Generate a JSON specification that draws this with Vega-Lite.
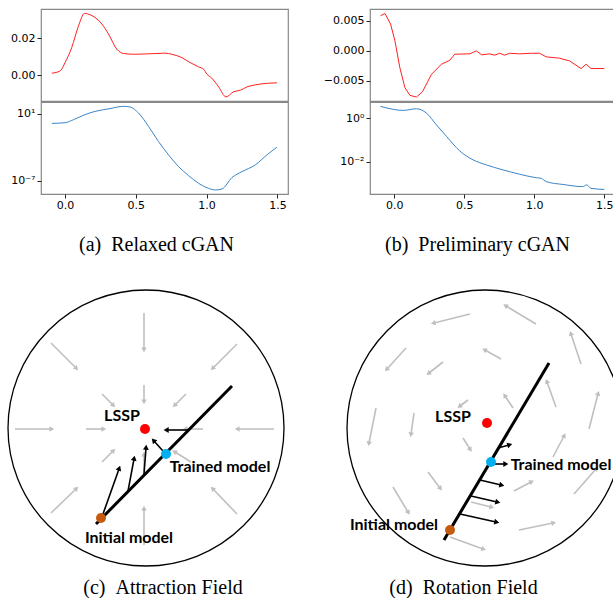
{
  "$schema": "https://vega.github.io/schema/vega-lite/v6.json",
  "padding": {"left": 0, "top": 8, "right": 0, "bottom": 0},
  "background": "white",
  "datasets": {
    "a_red": [{"x":-0.094,"y":0.0011},{"x":-0.035,"y":0.0023},{"x":0.0,"y":0.0068},{"x":0.047,"y":0.0149},{"x":0.095,"y":0.0266},{"x":0.137,"y":0.0333},{"x":0.177,"y":0.0326},{"x":0.26,"y":0.0276},{"x":0.307,"y":0.0222},{"x":0.366,"y":0.014},{"x":0.413,"y":0.0117},{"x":0.49,"y":0.0113},{"x":0.637,"y":0.0117},{"x":0.707,"y":0.0119},{"x":0.754,"y":0.0113},{"x":0.825,"y":0.0095},{"x":0.884,"y":0.0068},{"x":0.943,"y":0.0045},{"x":0.979,"y":0.0032},{"x":1.003,"y":0.0005},{"x":1.037,"y":-0.0016},{"x":1.085,"y":-0.0063},{"x":1.137,"y":-0.0117},{"x":1.191,"y":-0.0089},{"x":1.238,"y":-0.0081},{"x":1.285,"y":-0.0063},{"x":1.344,"y":-0.0052},{"x":1.438,"y":-0.0043},{"x":1.497,"y":-0.0041}],
    "a_blue": [{"x":-0.094,"y":0.692},{"x":0.0,"y":0.841},{"x":0.059,"y":1.905},{"x":0.141,"y":7.59},{"x":0.212,"y":18.6},{"x":0.318,"y":39.8},{"x":0.413,"y":74.1},{"x":0.46,"y":61.7},{"x":0.519,"y":11.7},{"x":0.59,"y":0.302},{"x":0.66,"y":0.0049},{"x":0.731,"y":0.000126},{"x":0.802,"y":0.000005},{"x":0.873,"y":4.27e-7},{"x":0.943,"y":5.25e-8},{"x":1.014,"y":1.32e-8},{"x":1.061,"y":8.5e-9},{"x":1.108,"y":1.1e-8},{"x":1.179,"y":2.5e-7},{"x":1.25,"y":1.29e-6},{"x":1.344,"y":8.1e-6},{"x":1.426,"y":0.000126},{"x":1.497,"y":0.00102}],
    "b_red": [{"x":-0.098,"y":0.00583},{"x":-0.066,"y":0.0062},{"x":-0.026,"y":0.00444},{"x":0.005,"y":0.00167},{"x":0.04,"y":-0.00278},{"x":0.076,"y":-0.0061},{"x":0.112,"y":-0.0074},{"x":0.159,"y":-0.00767},{"x":0.202,"y":-0.00678},{"x":0.266,"y":-0.00389},{"x":0.337,"y":-0.00222},{"x":0.397,"y":-0.00156},{"x":0.432,"y":-0.00056},{"x":0.539,"y":-0.0005},{"x":0.586,"y":0.0},{"x":0.625,"y":-0.00067},{"x":0.68,"y":-0.0005},{"x":0.717,"y":-0.00072},{"x":0.753,"y":-0.0004},{"x":0.788,"y":-0.00072},{"x":0.824,"y":-0.0004},{"x":0.895,"y":-0.0005},{"x":0.978,"y":-0.0004},{"x":1.038,"y":-0.0004},{"x":1.085,"y":-0.001},{"x":1.18,"y":-0.00122},{"x":1.251,"y":-0.00167},{"x":1.334,"y":-0.00294},{"x":1.37,"y":-0.00222},{"x":1.405,"y":-0.00294},{"x":1.5,"y":-0.00294}],
    "b_blue": [{"x":-0.098,"y":3.47},{"x":0.005,"y":2.45},{"x":0.064,"y":2.26},{"x":0.159,"y":2.69},{"x":0.23,"y":1.7},{"x":0.301,"y":0.49},{"x":0.373,"y":0.1445},{"x":0.468,"y":0.0309},{"x":0.563,"y":0.012},{"x":0.657,"y":0.00708},{"x":0.776,"y":0.00417},{"x":0.895,"y":0.00263},{"x":1.013,"y":0.00182},{"x":1.049,"y":0.0017},{"x":1.085,"y":0.0012},{"x":1.204,"y":0.00089},{"x":1.346,"y":0.00071},{"x":1.374,"y":0.00085},{"x":1.405,"y":0.00059},{"x":1.5,"y":0.000525}],
    "c_circle": [{"x":145,"y":426}],
    "c_gray": [{"x":143,"y":311,"x2":143,"y2":347},{"x":143,"y":543,"x2":143,"y2":507},{"x":14,"y":427,"x2":50,"y2":427},{"x":273,"y":427,"x2":237,"y2":427},{"x":50,"y":341,"x2":75,"y2":366},{"x":236,"y":342,"x2":212,"y2":366},{"x":50,"y":511,"x2":75,"y2":487},{"x":236,"y":512,"x2":212,"y2":487},{"x":143,"y":383,"x2":143,"y2":399},{"x":143,"y":470,"x2":143,"y2":453},{"x":85,"y":427,"x2":102,"y2":427},{"x":202,"y":427,"x2":185,"y2":427},{"x":101,"y":392,"x2":112,"y2":403},{"x":185,"y":392,"x2":174,"y2":403},{"x":101,"y":460,"x2":112,"y2":449},{"x":190,"y":460,"x2":174,"y2":450}],
    "c_traj": [{"x":95,"y":522,"x2":231,"y2":384}],
    "c_black": [{"x":102,"y":512,"x2":118,"y2":467},{"x":127,"y":489,"x2":133,"y2":457},{"x":143,"y":472,"x2":145,"y2":446},{"x":162,"y":449,"x2":153,"y2":439},{"x":187,"y":428,"x2":166,"y2":428}],
    "c_pts": [{"x":100,"y":516,"name":"Initial model"},{"x":144,"y":427,"name":"LSSP"},{"x":165,"y":452,"name":"Trained model"}],
    "c_text": [{"x":121,"y":414,"label":"LSSP"},{"x":219,"y":465,"label":"Trained model"},{"x":128,"y":536,"label":"Initial model"}],
    "d_circle": [{"x":484,"y":426}],
    "d_gray": [{"x":469,"y":312,"x2":433,"y2":321},{"x":405,"y":346,"x2":386,"y2":367},{"x":442,"y":360,"x2":428,"y2":371},{"x":375,"y":406,"x2":368,"y2":441},{"x":413,"y":411,"x2":410,"y2":432},{"x":427,"y":470,"x2":439,"y2":486},{"x":392,"y":485,"x2":407,"y2":510},{"x":467,"y":398,"x2":459,"y2":404},{"x":462,"y":436,"x2":469,"y2":447},{"x":535,"y":322,"x2":505,"y2":304},{"x":500,"y":357,"x2":484,"y2":348},{"x":512,"y":406,"x2":504,"y2":394},{"x":555,"y":405,"x2":546,"y2":380},{"x":580,"y":362,"x2":570,"y2":332},{"x":588,"y":427,"x2":597,"y2":392},{"x":552,"y":455,"x2":563,"y2":434},{"x":573,"y":492,"x2":595,"y2":467},{"x":513,"y":489,"x2":530,"y2":480},{"x":518,"y":528,"x2":552,"y2":521},{"x":449,"y":535,"x2":482,"y2":547},{"x":470,"y":500,"x2":490,"y2":505}],
    "d_traj": [{"x":443,"y":538,"x2":548,"y2":361}],
    "d_black": [{"x":497,"y":446,"x2":508,"y2":443},{"x":494,"y":462,"x2":504,"y2":462},{"x":479,"y":478,"x2":500,"y2":483},{"x":470,"y":494,"x2":496,"y2":500},{"x":459,"y":512,"x2":495,"y2":520}],
    "d_pts": [{"x":449,"y":528,"name":"Initial model"},{"x":486,"y":421,"name":"LSSP"},{"x":490,"y":460,"name":"Trained model"}],
    "d_text": [{"x":452,"y":415,"label":"LSSP"},{"x":560,"y":463,"label":"Trained model"},{"x":393,"y":523,"label":"Initial model"}]
  },
  "config": {
    "view": {"stroke": "#888", "strokeWidth": 1.2},
    "axis": {"grid": false, "domain": false, "labelFont": "DejaVu Sans", "labelFontSize": 11, "labelColor": "#000", "tickColor": "#222", "tickSize": 4, "labelPadding": 2},
    "title": {"font": "Liberation Serif", "fontSize": 20, "fontWeight": "normal", "color": "#000", "orient": "bottom", "anchor": "middle"},
    "text": {"font": "Lato", "fontWeight": "bold", "fontSize": 16}
  },
  "vconcat": [
    {
      "hconcat": [
        {
          "title": {"text": "(a)\u2002Relaxed cGAN", "offset": 24, "dx": 12},
          "spacing": -4,
          "vconcat": [
            {
              "width": 247, "height": 92,
              "encoding": {
                "x": {"field": "x", "type": "quantitative", "title": null, "scale": {"domain": [-0.17, 1.575], "nice": false, "zero": false}, "axis": null},
                "y": {"field": "y", "type": "quantitative", "title": null, "scale": {"domain": [-0.0139, 0.0357], "nice": false, "zero": false}, "axis": {"values": [0, 0.02], "format": ".2f", "minExtent": 40}}
              },
              "layer": [
                {"data": {"name": "a_red"}, "mark": {"type": "line", "color": "#ff2020", "strokeWidth": 1, "interpolate": "monotone", "clip": true}},
                {"mark": {"type": "rule", "color": "#333", "strokeDash": [4, 3], "strokeWidth": 1}, "encoding": {"y": {"datum": 0}, "x": null}},
                {"mark": {"type": "rule", "color": "#333", "strokeDash": [4, 3], "strokeWidth": 1}, "encoding": {"x": {"datum": 1.042}, "y": null}}
              ]
            },
            {
              "width": 247, "height": 92,
              "encoding": {
                "x": {"field": "x", "type": "quantitative", "title": null, "scale": {"domain": [-0.17, 1.575], "nice": false, "zero": false}, "axis": {"values": [0, 0.5, 1, 1.5], "format": ".1f", "labelPadding": 1}},
                "y": {"field": "y", "type": "quantitative", "title": null, "scale": {"type": "log", "domain": [2.8e-9, 243], "nice": false}, "axis": {"values": [10, 1e-7], "labelExpr": "datum.value > 1 ? '10¹' : '10⁻⁷'", "minExtent": 40}}
              },
              "layer": [
                {"data": {"name": "a_blue"}, "mark": {"type": "line", "color": "#3a86c8", "strokeWidth": 1, "interpolate": "monotone", "clip": true}},
                {"mark": {"type": "rule", "color": "#333", "strokeDash": [4, 3], "strokeWidth": 1}, "encoding": {"x": {"datum": 0}, "y": null}},
                {"mark": {"type": "rule", "color": "#333", "strokeDash": [4, 3], "strokeWidth": 1}, "encoding": {"x": {"datum": 1.0}, "y": null}}
              ]
            }
          ]
        },
        {
          "title": {"text": "(b)\u2002Preliminary cGAN", "offset": 24, "dx": 11},
          "spacing": -4,
          "vconcat": [
            {
              "width": 245, "height": 92,
              "encoding": {
                "x": {"field": "x", "type": "quantitative", "title": null, "scale": {"domain": [-0.173, 1.576], "nice": false, "zero": false}, "axis": null},
                "y": {"field": "y", "type": "quantitative", "title": null, "scale": {"domain": [-0.00833, 0.00695], "nice": false, "zero": false}, "axis": {"values": [-0.005, 0, 0.005], "format": ".3f", "minExtent": 52}}
              },
              "layer": [
                {"data": {"name": "b_red"}, "mark": {"type": "line", "color": "#ff2020", "strokeWidth": 1, "clip": true}},
                {"mark": {"type": "rule", "color": "#333", "strokeDash": [4, 3], "strokeWidth": 1}, "encoding": {"y": {"datum": 0}, "x": null}},
                {"mark": {"type": "rule", "color": "#333", "strokeDash": [4, 3], "strokeWidth": 1}, "encoding": {"x": {"datum": 0.036}, "y": null}}
              ]
            },
            {
              "width": 245, "height": 92,
              "encoding": {
                "x": {"field": "x", "type": "quantitative", "title": null, "scale": {"domain": [-0.173, 1.576], "nice": false, "zero": false}, "axis": {"values": [0, 0.5, 1, 1.5], "format": ".1f", "labelPadding": 1}},
                "y": {"field": "y", "type": "quantitative", "title": null, "scale": {"type": "log", "domain": [0.000324, 5.5], "nice": false}, "axis": {"values": [1, 0.01], "labelExpr": "datum.value >= 1 ? '10⁰' : '10⁻²'", "minExtent": 52}}
              },
              "layer": [
                {"data": {"name": "b_blue"}, "mark": {"type": "line", "color": "#3a86c8", "strokeWidth": 1, "interpolate": "monotone", "clip": true}},
                {"mark": {"type": "rule", "color": "#333", "strokeDash": [4, 3], "strokeWidth": 1}, "encoding": {"x": {"datum": 0.005}, "y": null}},
                {"mark": {"type": "rule", "color": "#333", "strokeDash": [4, 3], "strokeWidth": 1}, "encoding": {"x": {"datum": 1.0}, "y": null}}
              ]
            }
          ]
        }
      ],
      "spacing": 28
    },
    {
      "spacing": 0,
      "hconcat": [
        {
          "title": {"text": "(c)\u2002Attraction Field", "offset": 1, "dx": -11},
          "width": 266, "height": 295,
          "view": {"stroke": null},
          "encoding": {
            "x": {"field": "x", "type": "quantitative", "axis": null, "scale": {"domain": [40, 306], "nice": false, "zero": false}},
            "y": {"field": "y", "type": "quantitative", "axis": null, "scale": {"domain": [280, 575], "nice": false, "zero": false, "reverse": true}}
          },
          "layer": [
            {"data": {"name": "c_circle"}, "mark": {"type": "point", "shape": "circle", "size": 76176, "filled": false, "stroke": "#000", "strokeWidth": 1.3, "opacity": 1}},
            {"data": {"name": "c_gray"}, "mark": {"type": "rule", "color": "#bfbfbf", "strokeWidth": 1.6}, "encoding": {"x2": {"field": "x2"}, "y2": {"field": "y2"}}},
            {"data": {"name": "c_gray"}, "transform": [{"calculate": "atan2(datum.x2 - datum.x, datum.y - datum.y2) * 180 / PI", "as": "ang"}], "mark": {"type": "point", "shape": "triangle", "filled": true, "color": "#bfbfbf", "size": 30, "opacity": 1}, "encoding": {"x": {"field": "x2", "type": "quantitative"}, "y": {"field": "y2", "type": "quantitative"}, "angle": {"field": "ang", "type": "quantitative", "scale": null}}},
            {"data": {"name": "c_traj"}, "mark": {"type": "rule", "color": "#000", "strokeWidth": 3}, "encoding": {"x2": {"field": "x2"}, "y2": {"field": "y2"}}},
            {"data": {"name": "c_black"}, "mark": {"type": "rule", "color": "#000", "strokeWidth": 1.6}, "encoding": {"x2": {"field": "x2"}, "y2": {"field": "y2"}}},
            {"data": {"name": "c_black"}, "transform": [{"calculate": "atan2(datum.x2 - datum.x, datum.y - datum.y2) * 180 / PI", "as": "ang"}], "mark": {"type": "point", "shape": "triangle", "filled": true, "color": "#000", "size": 34, "opacity": 1}, "encoding": {"x": {"field": "x2", "type": "quantitative"}, "y": {"field": "y2", "type": "quantitative"}, "angle": {"field": "ang", "type": "quantitative", "scale": null}}},
            {"data": {"name": "c_pts"}, "mark": {"type": "point", "shape": "circle", "filled": true, "size": 100, "opacity": 1}, "encoding": {"color": {"field": "name", "type": "nominal", "legend": null, "scale": {"domain": ["Initial model", "LSSP", "Trained model"], "range": ["#c55a11", "#ff0000", "#00b0f0"]}}}},
            {"data": {"name": "c_text"}, "mark": {"type": "text", "align": "center", "baseline": "middle", "color": "#000"}, "encoding": {"text": {"field": "label"}}}
          ]
        },
        {
          "title": {"text": "(d)\u2002Rotation Field", "offset": 1, "dx": 3},
          "width": 307, "height": 295,
          "view": {"stroke": null},
          "encoding": {
            "x": {"field": "x", "type": "quantitative", "axis": null, "scale": {"domain": [306, 613], "nice": false, "zero": false}},
            "y": {"field": "y", "type": "quantitative", "axis": null, "scale": {"domain": [280, 575], "nice": false, "zero": false, "reverse": true}}
          },
          "layer": [
            {"data": {"name": "d_circle"}, "mark": {"type": "point", "shape": "circle", "size": 76176, "filled": false, "stroke": "#000", "strokeWidth": 1.3, "opacity": 1, "clip": true}},
            {"data": {"name": "d_gray"}, "mark": {"type": "rule", "color": "#bfbfbf", "strokeWidth": 1.6}, "encoding": {"x2": {"field": "x2"}, "y2": {"field": "y2"}}},
            {"data": {"name": "d_gray"}, "transform": [{"calculate": "atan2(datum.x2 - datum.x, datum.y - datum.y2) * 180 / PI", "as": "ang"}], "mark": {"type": "point", "shape": "triangle", "filled": true, "color": "#bfbfbf", "size": 30, "opacity": 1}, "encoding": {"x": {"field": "x2", "type": "quantitative"}, "y": {"field": "y2", "type": "quantitative"}, "angle": {"field": "ang", "type": "quantitative", "scale": null}}},
            {"data": {"name": "d_traj"}, "mark": {"type": "rule", "color": "#000", "strokeWidth": 3}, "encoding": {"x2": {"field": "x2"}, "y2": {"field": "y2"}}},
            {"data": {"name": "d_black"}, "mark": {"type": "rule", "color": "#000", "strokeWidth": 1.6}, "encoding": {"x2": {"field": "x2"}, "y2": {"field": "y2"}}},
            {"data": {"name": "d_black"}, "transform": [{"calculate": "atan2(datum.x2 - datum.x, datum.y - datum.y2) * 180 / PI", "as": "ang"}], "mark": {"type": "point", "shape": "triangle", "filled": true, "color": "#000", "size": 34, "opacity": 1}, "encoding": {"x": {"field": "x2", "type": "quantitative"}, "y": {"field": "y2", "type": "quantitative"}, "angle": {"field": "ang", "type": "quantitative", "scale": null}}},
            {"data": {"name": "d_pts"}, "mark": {"type": "point", "shape": "circle", "filled": true, "size": 100, "opacity": 1}, "encoding": {"color": {"field": "name", "type": "nominal", "legend": null, "scale": {"domain": ["Initial model", "LSSP", "Trained model"], "range": ["#c55a11", "#ff0000", "#00b0f0"]}}}},
            {"data": {"name": "d_text"}, "mark": {"type": "text", "align": "center", "baseline": "middle", "color": "#000"}, "encoding": {"text": {"field": "label"}}}
          ]
        }
      ]
    }
  ],
  "spacing": 27
}
